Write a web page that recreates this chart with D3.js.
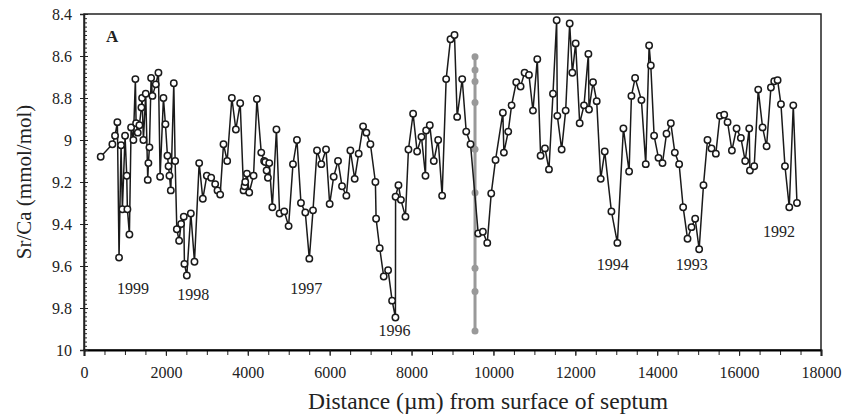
<!DOCTYPE html>
<html>
<head>
<meta charset="utf-8">
<script src="https://cdn.jsdelivr.net/npm/d3@7"></script>
<style>
  html, body { margin: 0; padding: 0; background: #fff; }
  #chart { width: 842px; height: 418px; }
  text { font-family: "Liberation Serif", "Times New Roman", serif; fill: #222; }
</style>
</head>
<body>
<div id="chart"></div>
<script>
// Sr/Ca profile, distance in micrometres from surface of septum
const distance = [
  408, 693, 758, 815, 856, 905, 937, 1003, 1044, 1060, 1109, 1150, 1206, 1255, 1272, 1313,
  1353, 1402, 1419, 1451, 1508, 1557, 1573, 1598, 1639, 1671, 1753, 1818, 1859, 1940, 1989,
  2038, 2065, 2087, 2120, 2193, 2226, 2267, 2323, 2372, 2437, 2453, 2511, 2609, 2698, 2813,
  2902, 3000, 3106, 3204, 3261, 3326, 3407, 3497, 3611, 3709, 3815, 3897, 3921, 3938, 3979,
  4035, 4141, 4223, 4329, 4400, 4427, 4460, 4492, 4524, 4600, 4700, 4777, 4891, 4997, 5104,
  5201, 5299, 5405, 5503, 5593, 5691, 5796, 5911, 6000, 6098, 6204, 6302, 6408, 6506, 6611,
  6709, 6816, 6897, 6995, 7117, 7134, 7222, 7320, 7427, 7525, 7606, 7610, 7680, 7740, 7851,
  7924, 8038, 8136, 8242, 8340, 8356, 8445, 8543, 8650, 8747, 8845, 8951, 9049, 9114, 9237,
  9335, 9440, 9628, 9742, 9849, 9946, 10051, 10230, 10255, 10361, 10443, 10557, 10663, 10761,
  10867, 10965, 11071, 11152, 11258, 11356, 11454, 11544, 11560, 11666, 11764, 11862, 11927,
  12008, 12106, 12212, 12319, 12334, 12432, 12522, 12620, 12718, 12881, 13027, 13174, 13313,
  13370, 13460, 13614, 13720, 13802, 13843, 13924, 14031, 14129, 14227, 14332, 14430, 14535,
  14633, 14740, 14838, 14927, 15024, 15130, 15228, 15326, 15432, 15530, 15636, 15718, 15824,
  15938, 16043, 16149, 16247, 16264, 16369, 16467, 16573, 16671, 16777, 16858, 16940, 17022,
  17120, 17225, 17323, 17413
];
const srca = [
  9.08, 9.02, 8.98, 8.915, 9.56, 9.025, 9.33, 8.98, 9.17, 9.33, 9.45, 8.94, 9.0, 8.71, 8.92, 8.965,
  8.93, 8.845, 8.80, 9.0, 8.78, 9.19, 9.11, 9.035, 8.705, 8.79, 8.735, 8.68, 9.175, 8.80, 8.925,
  9.075, 9.125, 9.17, 9.24, 8.73, 9.10, 9.425, 9.48, 9.40, 9.365, 9.59, 9.645, 9.35, 9.58, 9.11,
  9.28, 9.17, 9.18, 9.21, 9.24, 9.26, 9.02, 9.10, 8.80, 8.95, 8.825, 9.24, 9.22, 9.20, 9.16,
  9.25, 9.17, 8.805, 9.06, 9.10, 9.105, 9.145, 9.18, 9.11, 9.32, 8.95, 9.35, 9.34, 9.41, 9.115,
  9.0, 9.30, 9.345, 9.565, 9.335, 9.05, 9.115, 9.045, 9.305, 9.175, 9.10, 9.22, 9.265, 9.05, 9.185,
  9.065, 8.935, 8.965, 9.02, 9.20, 9.375, 9.515, 9.65, 9.62, 9.765, 9.845, 9.27, 9.215, 9.285, 9.365,
  9.045, 8.875, 9.055, 8.985, 9.17, 8.955, 8.93, 9.10, 9.0, 9.265, 8.71, 8.52, 8.50, 8.89, 8.71,
  8.96, 9.02, 9.445, 9.437, 9.49, 9.255, 9.095, 8.87, 9.06, 8.96, 8.835, 8.725, 8.745, 8.68,
  8.69, 8.86, 8.615, 9.075, 9.04, 9.14, 8.78, 8.43, 8.885, 9.045, 8.86, 8.445, 8.68,
  8.54, 8.92, 8.835, 8.59, 8.855, 8.725, 8.815, 9.185, 9.055, 9.34, 9.49, 8.945, 9.15,
  8.79, 8.705, 8.81, 9.115, 8.55, 8.645, 8.98, 9.085, 9.11, 8.97, 8.92, 9.06, 9.115,
  9.32, 9.47, 9.415, 9.375, 9.52, 9.215, 9.0, 9.04, 9.065, 8.885, 8.88, 8.915, 9.05,
  8.945, 8.99, 9.10, 8.945, 9.145, 9.125, 8.76, 8.94, 9.03, 8.75, 8.72, 8.715, 8.83,
  9.125, 9.32, 8.835, 9.30
];

// grey reference column
const grayDistance = 9550;
const grayValues = [8.603, 8.667, 8.722, 8.822, 9.044, 9.251, 9.611, 9.722, 9.91];

// year annotations (distance, Sr/Ca at label centre)
const yearNames = ["1999", "1998", "1997", "1996", "1994", "1993", "1992"];
const yearDistance = [1198, 2666, 5430, 7582, 12913, 14845, 16973];
const yearValue = [9.705, 9.733, 9.705, 9.905, 9.59, 9.59, 9.433];

const xTicks = [0, 2000, 4000, 6000, 8000, 10000, 12000, 14000, 16000, 18000];
const yTicks = [8.4, 8.6, 8.8, 9, 9.2, 9.4, 9.6, 9.8, 10];

document.addEventListener("DOMContentLoaded", function() {
  const width = 842, height = 418;
  const margin = { top: 14, right: 21, bottom: 68, left: 84 };

  const svg = d3.select("#chart").append("svg")
    .attr("width", width)
    .attr("height", height);

  const x = d3.scaleLinear().domain([0, 18000]).range([margin.left, width - margin.right]);
  const y = d3.scaleLinear().domain([8.4, 10]).range([margin.top, height - margin.bottom]);

  const points = distance.map((d, i) => ({ d: d, v: srca[i] }));

  // frame
  svg.append("rect")
    .attr("x", x(0)).attr("y", y(8.4))
    .attr("width", x(18000) - x(0)).attr("height", y(10) - y(8.4))
    .attr("fill", "none").attr("stroke", "#222").attr("stroke-width", 1.5);

  // x axis: minor ticks every 500, labels every 2000
  svg.append("g")
    .attr("transform", `translate(0,${y(10)})`)
    .call(d3.axisBottom(x).tickValues(d3.range(0, 18001, 500)).tickSize(5).tickFormat(""))
    .call(g => g.select(".domain").remove());
  const xAxisG = svg.append("g")
    .attr("transform", `translate(0,${y(10)})`)
    .call(d3.axisBottom(x).tickValues(xTicks).tickSize(6).tickPadding(11).tickFormat(d3.format("d")));
  xAxisG.select(".domain").attr("stroke-width", 2);
  svg.selectAll("line").attr("stroke", "#222");
  xAxisG.selectAll("text").style("font-size", "16px").attr("fill", "#222");

  // y axis: minor ticks inside every 0.02, major ticks crossing
  svg.append("g")
    .attr("transform", `translate(${x(0)},0)`)
    .call(d3.axisRight(y).tickValues(d3.range(0, 81).map(i => 8.4 + i * 0.02)).tickSize(3).tickFormat(""))
    .call(g => g.select(".domain").remove())
    .selectAll("line").attr("stroke", "#222");
  const yAxisG = svg.append("g")
    .attr("transform", `translate(${x(0)},0)`)
    .call(d3.axisLeft(y).tickValues(yTicks).tickSize(4).tickPadding(8).tickFormat(d => String(d)));
  yAxisG.select(".domain").attr("stroke", "#222").attr("stroke-width", 1.5);
  yAxisG.selectAll("line").attr("stroke", "#222");
  yAxisG.selectAll(".tick").append("line").attr("x2", 4).attr("stroke", "#222");
  yAxisG.selectAll("text").style("font-size", "16px").attr("fill", "#222");

  // axis titles
  svg.append("text")
    .attr("x", 488).attr("y", 409)
    .attr("text-anchor", "middle")
    .style("font-size", "23.5px")
    .text("Distance (\u00b5m) from surface of septum");

  svg.append("text")
    .attr("transform", `translate(31,${(y(8.4) + y(10)) / 2}) rotate(-90)`)
    .attr("text-anchor", "middle")
    .style("font-size", "21px")
    .text("Sr/Ca (mmol/mol)");

  // panel letter
  svg.append("text")
    .attr("x", 106).attr("y", 42)
    .style("font-size", "17px").style("font-weight", "bold")
    .text("A");

  // grey column
  svg.append("line")
    .attr("x1", x(grayDistance)).attr("x2", x(grayDistance))
    .attr("y1", y(d3.min(grayValues))).attr("y2", y(d3.max(grayValues)))
    .attr("stroke", "#999").attr("stroke-width", 3);
  svg.selectAll("circle.gray")
    .data(grayValues)
    .enter().append("circle")
    .attr("class", "gray")
    .attr("cx", x(grayDistance)).attr("cy", d => y(d))
    .attr("r", 3.5).attr("fill", "#999");

  // profile line
  const line = d3.line().x(p => x(p.d)).y(p => y(p.v));
  svg.append("path")
    .datum(points)
    .attr("d", line)
    .attr("fill", "none").attr("stroke", "#1a1a1a").attr("stroke-width", 1.5);

  svg.selectAll("circle.pt")
    .data(points)
    .enter().append("circle")
    .attr("class", "pt")
    .attr("cx", p => x(p.d)).attr("cy", p => y(p.v))
    .attr("r", 3.2).attr("fill", "#fff")
    .attr("stroke", "#1a1a1a").attr("stroke-width", 1.5);

  // year labels
  svg.selectAll("text.year")
    .data(yearNames)
    .enter().append("text")
    .attr("class", "year")
    .attr("x", (d, i) => x(yearDistance[i]))
    .attr("y", (d, i) => y(yearValue[i]))
    .attr("dy", "0.35em")
    .attr("text-anchor", "middle")
    .style("font-size", "16px")
    .text(d => d);
});
</script>
</body>
</html>
